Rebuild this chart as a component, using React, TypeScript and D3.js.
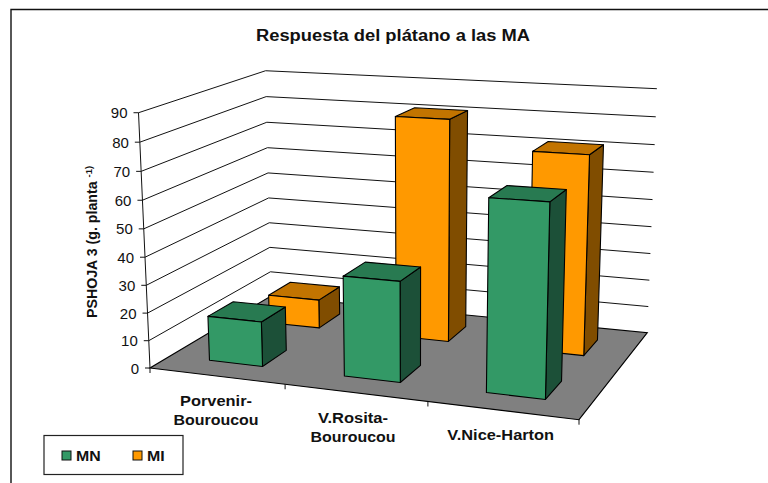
import React from "react";
import * as d3 from "d3";

const title = "Respuesta del plátano a las MA";
const categories = ["Porvenir-Bouroucou", "V.Rosita-Bouroucou", "V.Nice-Harton"];
const categoryLines = [["Porvenir-", "Bouroucou"], ["V.Rosita-", "Bouroucou"], ["V.Nice-Harton"]];
const series = ["MN", "MI"];
const valuesMN = [16.2, 35.3, 65.6];
const valuesMI = [10.8, 81.3, 71.7];
const yTicks = [0, 10, 20, 30, 40, 50, 60, 70, 80, 90];

type P = [number, number];
function homography(a: P, b: P, c: P, d: P) {
  const dx1 = b[0] - c[0], dx2 = d[0] - c[0], sx = a[0] - b[0] + c[0] - d[0];
  const dy1 = b[1] - c[1], dy2 = d[1] - c[1], sy = a[1] - b[1] + c[1] - d[1];
  const den = dx1 * dy2 - dx2 * dy1;
  const g = (sx * dy2 - dx2 * sy) / den, h = (dx1 * sy - sx * dy1) / den;
  return (u: number, v: number) => {
    const w = 1 + g * u + h * v;
    return {
      w,
      x: ((b[0] - a[0] + g * b[0]) * u + (d[0] - a[0] + h * d[0]) * v + a[0]) / w,
      y: ((b[1] - a[1] + g * b[1]) * u + (d[1] - a[1] + h * d[1]) * v + a[1]) / w,
    };
  };
}
const floor = homography([150, 368], [579, 419.7], [647.3, 332.7], [271, 296]);
const vanish: P = [415, 6258];
const t = d3.scaleLinear().domain([0, 90]).range([0, 1]);
const project = (u0: number, v: number, val: number): P => {
  const u = u0 + 0.007 * Math.sin(Math.PI * u0);
  const f = floor(u, v);
  const e = (-0.04154 - 0.00066 * v + 0.00052 * u * v) * t(val);
  const d = f.w + e;
  return [(f.x * f.w + e * vanish[0]) / d, (f.y * f.w + e * vanish[1]) / d];
};
const xBand = d3.scaleBand<string>().domain(categories).range([0, 1]).paddingInner(0.6).paddingOuter(0.3);
const zBand = d3.scaleBand<string>().domain(series).range([0, 1]).paddingInner(0.6).paddingOuter(0.3);
const xEdge = d3.scaleLinear().domain([0, categories.length]).range([0, 1]);
const line = d3.line<P>();
const poly = (pts: P[]) => line(pts)! + "Z";

const colors: Record<string, { front: string; top: string; side: string }> = {
  MN: { front: "#339966", top: "#287a51", side: "#1c5038" },
  MI: { front: "#ff9900", top: "#c27400", side: "#804d00" },
};
const font = "'Liberation Sans', Arial, sans-serif";
const ink = "#111";

function Bar({ cat, s, value }: { cat: string; s: string; value: number }) {
  const u0 = xBand(cat)!, u1 = u0 + xBand.bandwidth();
  const v0 = zBand(s)!, v1 = v0 + zBand.bandwidth();
  const c = colors[s];
  const faces: [P[], string][] = [
    [[project(u1, v0, 0), project(u1, v1, 0), project(u1, v1, value), project(u1, v0, value)], c.side],
    [[project(u0, v0, value), project(u1, v0, value), project(u1, v1, value), project(u0, v1, value)], c.top],
    [[project(u0, v0, 0), project(u1, v0, 0), project(u1, v0, value), project(u0, v0, value)], c.front],
  ];
  return <g>{faces.map(([p, fill], i) => <path key={i} d={poly(p)} fill={fill} stroke="#000" strokeWidth={1.1} strokeLinejoin="round" />)}</g>;
}

export default function App() {
  const rows = [
    { s: "MI", vals: valuesMI },
    { s: "MN", vals: valuesMN },
  ];
  return (
    <svg width={768} height={483} style={{ position: "absolute", left: 0, top: 0, background: "#fff" }} fontFamily={font}>
      <path d="M768,9.5H11V483" fill="none" stroke="#111" strokeWidth={1.4} />
      <text x={393} y={41} textAnchor="middle" fontSize={16} fontWeight="bold" fill={ink} textLength={274} lengthAdjust="spacingAndGlyphs">{title}</text>

      <path d={poly([project(0, 0, 0), project(1, 0, 0), project(1, 1, 0), project(0, 1, 0)])} fill="#808080" stroke="#000" strokeWidth={1.1} />
      {yTicks.map((v) => (
        <g key={v}>
          {v > 0 && <path d={line([project(0, 0, v), project(0, 1, v), project(1, 1, v)])!} fill="none" stroke="#111" strokeWidth={1} />}
          <path d={line([[project(0, 0, v)[0] - 5, project(0, 0, v)[1]], project(0, 0, v)])!} stroke="#111" strokeWidth={1} />
          <text x={project(0, 0, v)[0] - 11} y={project(0, 0, v)[1] + 5.5} textAnchor="end" fontSize={15} fill={ink}>{v}</text>
        </g>
      ))}
      <path d={line([project(0, 0, 0), project(0, 0, 90)])!} stroke="#111" strokeWidth={1} />
      {d3.range(categories.length + 1).map((i) => {
        const p = project(xEdge(i), 0, 0);
        return <path key={i} d={line([p, [p[0], p[1] + 5]])!} stroke="#111" strokeWidth={1} />;
      })}

      {rows.map((r) => (
        <g key={r.s}>{categories.map((c, i) => <Bar key={c} cat={c} s={r.s} value={r.vals[i]} />)}</g>
      ))}

      <text transform="translate(97,318) rotate(-90)" fontSize={14.2} fontWeight="bold" fill={ink}>
        PSHOJA 3 (g. planta <tspan fontSize={9.5} dy={-5}>-1)</tspan>
      </text>

      {categoryLines.map((lines, i) => {
        const cx = [216, 353, 500.7][i];
        const by = [406, 423, 440][i];
        return lines.map((l, j) => (
          <text key={l} x={cx} y={by + j * 19} textAnchor="middle" fontSize={14} fontWeight="bold" fill={ink}
            textLength={[[72, 85], [70, 85], [106.7]][i][j]} lengthAdjust="spacingAndGlyphs">{l}</text>
        ));
      })}

      <rect x={44} y={435.5} width={139} height={39} fill="#fff" stroke="#222" strokeWidth={1.2} />
      {series.map((s, i) => (
        <g key={s}>
          <rect x={62 + i * 71} y={451} width={9} height={9} fill={colors[s].front} stroke="#111" strokeWidth={1} />
          <text x={76 + i * 71} y={461} fontSize={15} fontWeight="bold" fill={ink} textLength={[24.7, 17.7][i]} lengthAdjust="spacingAndGlyphs">{s}</text>
        </g>
      ))}
    </svg>
  );
}
